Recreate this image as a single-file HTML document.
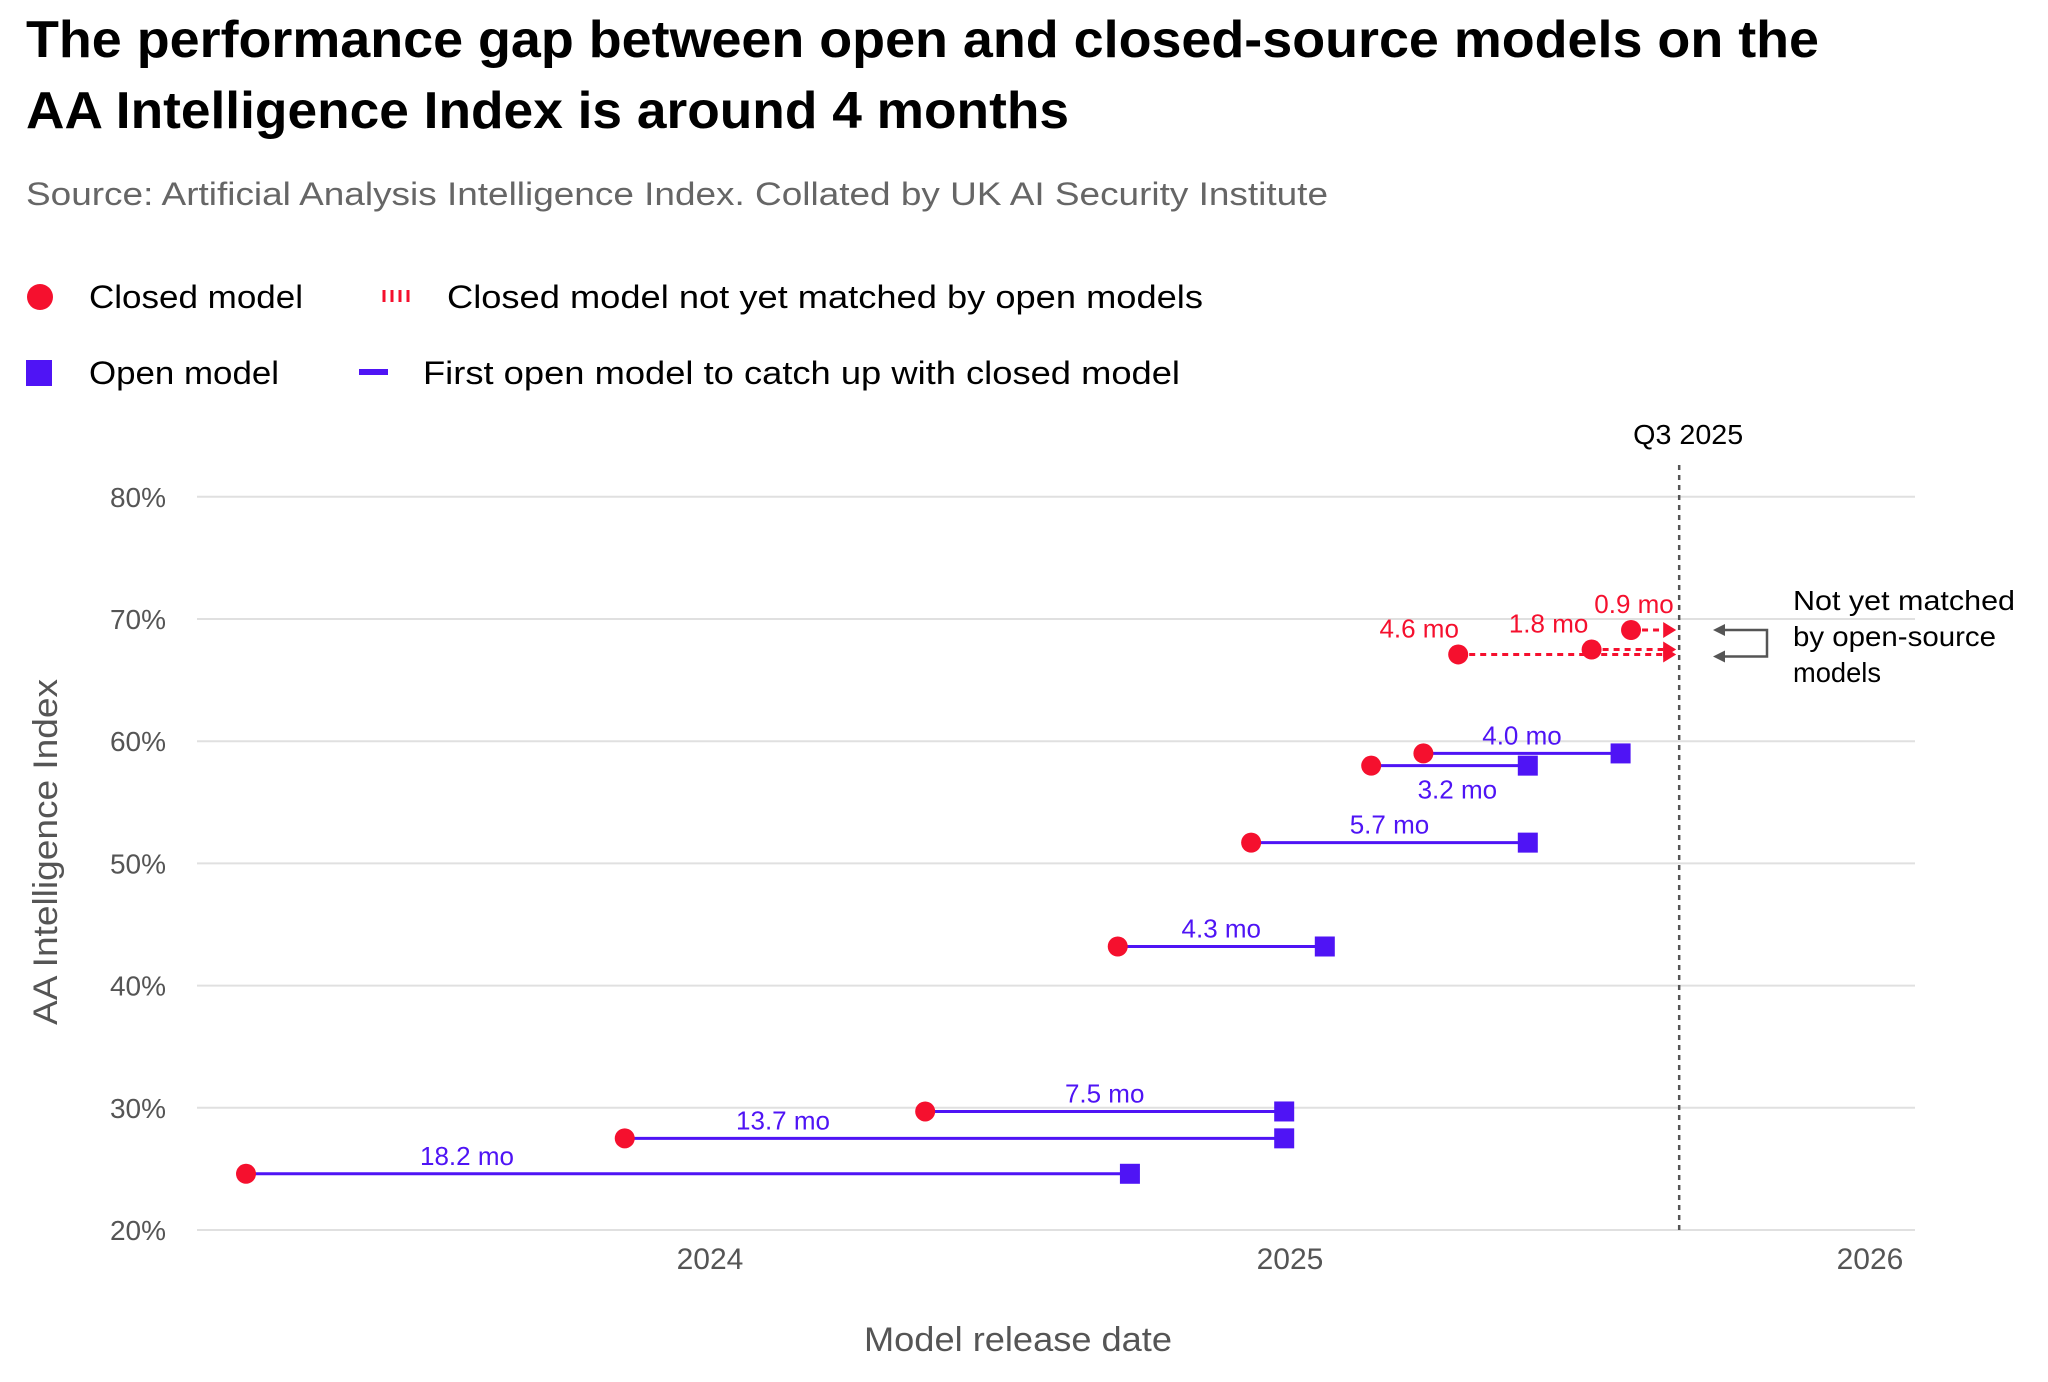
<!DOCTYPE html>
<html><head><meta charset="utf-8"><style>
html,body{margin:0;padding:0;background:#fff}
svg{display:block;font-family:"Liberation Sans",sans-serif}
</style></head><body>
<svg id="chart" width="2048" height="1382" viewBox="0 0 2048 1382" xmlns="http://www.w3.org/2000/svg">
<text x="26" y="57" font-size="52" font-weight="bold" fill="#000" textLength="1793" lengthAdjust="spacingAndGlyphs">The performance gap between open and closed-source models on the</text>
<text x="26" y="128" font-size="52" font-weight="bold" fill="#000" textLength="1043" lengthAdjust="spacingAndGlyphs">AA Intelligence Index is around 4 months</text>
<text x="26" y="205" font-size="32" fill="#666" textLength="1302" lengthAdjust="spacingAndGlyphs">Source: Artificial Analysis Intelligence Index. Collated by UK AI Security Institute</text>
<g>
<circle cx="40" cy="297" r="13" fill="#F5102E"/>
<text x="89" y="308" font-size="32" fill="#000" textLength="214" lengthAdjust="spacingAndGlyphs">Closed model</text>
<g stroke="#F5102E" stroke-width="3">
<line x1="384" y1="290" x2="384" y2="302"/><line x1="392" y1="290" x2="392" y2="302"/><line x1="400" y1="290" x2="400" y2="302"/><line x1="408" y1="290" x2="408" y2="302"/>
</g>
<text x="447" y="308" font-size="32" fill="#000" textLength="756" lengthAdjust="spacingAndGlyphs">Closed model not yet matched by open models</text>
<rect x="26" y="360" width="26" height="26" fill="#4F14F5"/>
<text x="89" y="384" font-size="32" fill="#000" textLength="190" lengthAdjust="spacingAndGlyphs">Open model</text>
<rect x="359" y="369" width="29" height="6" fill="#4F14F5"/>
<text x="423" y="384" font-size="32" fill="#000" textLength="757" lengthAdjust="spacingAndGlyphs">First open model to catch up with closed model</text>
</g>
<g id="plot"></g>
</svg>
<script>
const closedDates = [2023.20, 2023.853, 2024.371, 2024.703, 2024.933, 2025.14, 2025.23, 2025.29, 2025.52, 2025.588];
const closedScores = [24.6, 27.5, 29.7, 43.2, 51.7, 58.0, 59.0, 67.1, 67.5, 69.1];
const openDates = [2024.724, 2024.99, 2024.99, 2025.06, 2025.41, 2025.41, 2025.57, null, null, null];
const gapLabels = ["18.2 mo","13.7 mo","7.5 mo","4.3 mo","5.7 mo","3.2 mo","4.0 mo","4.6 mo","1.8 mo","0.9 mo"];
const yTicks = [20,30,40,50,60,70,80];
const xTicks = [2024,2025,2026];
const q3Date = 2025.671;

const NS="http://www.w3.org/2000/svg";
const plot=document.getElementById('plot');
const X0=197,X1=1915;
function xs(t){return 710+(t-2024)*580;}
function ys(v){return 1230-(v-20)*12.22;}
function el(tag,attrs,parent){const e=document.createElementNS(NS,tag);for(const k in attrs)e.setAttribute(k,attrs[k]);(parent||plot).appendChild(e);return e;}
const RED="#F5102E",PUR="#4F14F5";

yTicks.forEach(v=>{
  const l=el('line',{x1:X0,x2:X1,y1:ys(v),y2:ys(v),stroke:'#e0e0e0','stroke-width':2});
  
  
  const t=el('text',{x:166,y:ys(v)+10,'font-size':28,fill:'#555','text-anchor':'end'});
  t.textContent=v+'%';
  
  
});
xTicks.forEach(y=>{
  const t=el('text',{x:xs(y),y:1269,'font-size':30,fill:'#555','text-anchor':'middle'});
  t.textContent=y;
  
  
});
let t=el('text',{x:1018,y:1351,'font-size':34,fill:'#555','text-anchor':'middle',textLength:308,lengthAdjust:'spacingAndGlyphs'});
t.textContent='Model release date';


t=el('text',{x:0,y:0,'font-size':34,fill:'#555','text-anchor':'middle',transform:'translate(57,852) rotate(-90)',textLength:346,lengthAdjust:'spacingAndGlyphs'});
t.textContent='AA Intelligence Index';



const qx=xs(q3Date);
let q=el('line',{x1:qx,x2:qx,y1:465,y2:1230,stroke:'#555','stroke-width':2.5,'stroke-dasharray':'5 5'});


t=el('text',{x:qx+9,y:444,'font-size':28,fill:'#000','text-anchor':'middle',textLength:110,lengthAdjust:'spacingAndGlyphs'});
t.textContent='Q3 2025';



const labelFrac=[0.25,0.24,0.5,0.5,0.5,0.55,0.5];
const redLabelDx=[-39,-43,3];
closedDates.forEach((d,i)=>{
  const x=xs(d),y=ys(closedScores[i]);
  if(openDates[i]!=null){
    const ox=xs(openDates[i]);
    const ln=el('line',{x1:x,x2:ox,y1:y,y2:y,stroke:PUR,'stroke-width':3});
    
    
    const sq=el('rect',{x:ox-10,y:y-10,width:20,height:20,fill:PUR});
    
    
    const below=(i===5);
    const lx=x+(ox-x)*labelFrac[i];
    const lb=el('text',{x:lx,y:below?y+33:y-9,'font-size':26,fill:PUR,'text-anchor':'middle'});
    lb.textContent=gapLabels[i];
    
    
  } else {
    const ex=qx-16;
    const ln=el('line',{x1:x,x2:ex,y1:y,y2:y,stroke:RED,'stroke-width':3,'stroke-dasharray':'6 5'});
    
    
    const ar=el('polygon',{points:`${ex},${y-8} ${qx-3},${y} ${ex},${y+8}`,fill:RED});
    
    
    const lb=el('text',{x:x+redLabelDx[i-7],y:y-17,'font-size':26,fill:RED,'text-anchor':'middle'});
    lb.textContent=gapLabels[i];
    
    
  }
});
closedDates.forEach((d,i)=>{
  const c=el('circle',{cx:xs(d),cy:ys(closedScores[i]),r:10,fill:RED});
  
  
});

const ya=ys(closedScores[9]), yb=ys(closedScores[7])+2;
let p=el('path',{d:`M1720 ${ya} H1767 V${yb} H1720`,fill:'none',stroke:'#555','stroke-width':2.5});


[ya,yb].forEach(yy=>{
  const a=el('polygon',{points:`1713,${yy} 1725,${yy-6} 1725,${yy+6}`,fill:'#555'});
  
  
});
const annLens=[222,203,88];
['Not yet matched','by open-source','models'].forEach((s,i)=>{
  const tx=el('text',{x:1793,y:610+i*36,'font-size':28,fill:'#000',textLength:annLens[i],lengthAdjust:'spacingAndGlyphs'});
  tx.textContent=s;
  
  
});
</script>
</body></html>
